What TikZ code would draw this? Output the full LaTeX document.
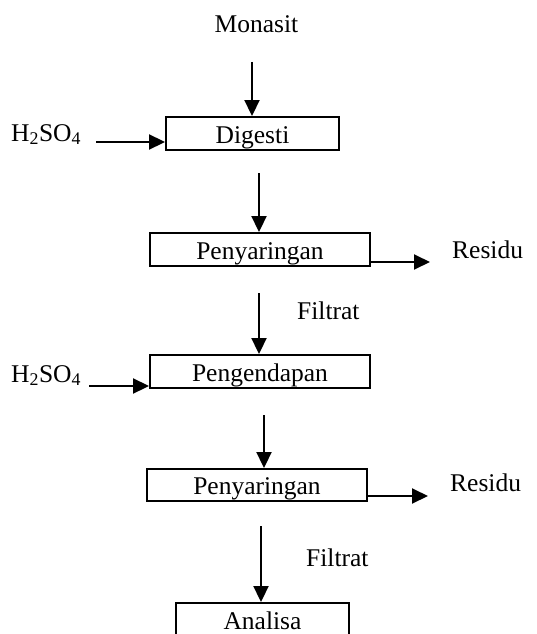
\documentclass[tikz,border=0pt]{standalone}
\usepackage{fontspec}
\setmainfont{Liberation Serif}
\usetikzlibrary{arrows.meta}
\begin{document}
\begin{tikzpicture}[x=1pt,y=-1pt,
  every node/.style={font=\fontsize{25.5}{30}\selectfont},
  proc/.style={draw,line width=1.9pt,inner sep=0pt,text height=19pt,text depth=0pt,minimum height=33pt},
  lbl/.style={inner sep=0pt},
  flow/.style={line width=1.9pt,-{Triangle[length=16pt,width=15pt]}}]
\useasboundingbox (0,0) rectangle (537,634);
\clip (0,0) rectangle (537,634);

% process steps
\node[proc,minimum width=173pt] (dig) at (252.5,133.5) {Digesti};
\node[proc,minimum width=220pt] (pny1) at (260,249.5) {Penyaringan};
\node[proc,minimum width=220pt] (pgd) at (260,371.5) {Pengendapan};
\node[proc,minimum width=220pt,minimum height=32pt] (pny2) at (257,485) {Penyaringan};
\node[proc,minimum width=173pt] (ana) at (262.5,619.5) {Analisa};

% feeds and products
\node[lbl,anchor=base] (mon) at (256.5,33) {Monasit};
\node[lbl,anchor=base west] (acid1) at (11,141) {H\textsubscript{2}SO\textsubscript{4}};
\node[lbl,anchor=base west] (res1) at (452,258) {Residu};
\node[lbl,anchor=base west] (fil1) at (297,319) {Filtrat};
\node[lbl,anchor=base west] (acid2) at (11,382) {H\textsubscript{2}SO\textsubscript{4}};
\node[lbl,anchor=base west] (res2) at (450,491) {Residu};
\node[lbl,anchor=base west] (fil2) at (306,566) {Filtrat};

% flow arrows
\coordinate (s1) at (252,62);
\draw[flow] (s1) -- (s1 |- dig.north);
\coordinate (a1) at (96,142);
\draw[flow] (a1) -- (a1 -| dig.west);
\coordinate (s2) at (259,173);
\draw[flow] (s2) -- (s2 |- pny1.north);
\coordinate (r1) at (430,262);
\draw[flow] (r1 -| pny1.east) -- (r1);
\coordinate (s3) at (259,293);
\draw[flow] (s3) -- (s3 |- pgd.north);
\coordinate (a2) at (89,386);
\draw[flow] (a2) -- (a2 -| pgd.west);
\coordinate (s4) at (264,415);
\draw[flow] (s4) -- (s4 |- pny2.north);
\coordinate (r2) at (428,496);
\draw[flow] (r2 -| pny2.east) -- (r2);
\coordinate (s5) at (261,526);
\draw[flow] (s5) -- (s5 |- ana.north);
\end{tikzpicture}
\end{document}
